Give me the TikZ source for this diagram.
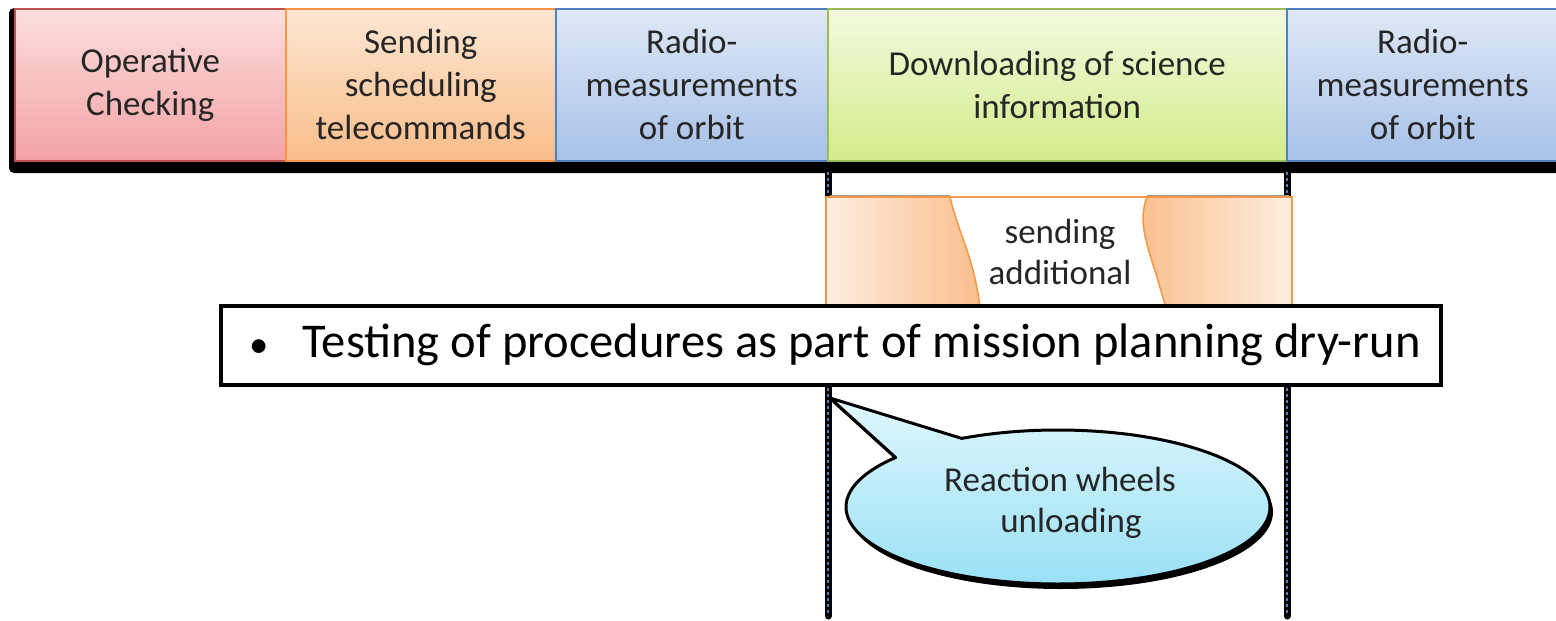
\documentclass[tikz,border=0pt]{standalone}
\usepackage{fontspec}
\usetikzlibrary{calc}
\setmainfont{Carlito}
\definecolor{pinkT}{HTML}{FCDEDE}\definecolor{pinkB}{HTML}{F3A2A5}\definecolor{pinkD}{HTML}{C0504D}
\definecolor{oraT}{HTML}{FDE7D3}\definecolor{oraB}{HTML}{F9BD8A}\definecolor{oraD}{HTML}{F79646}
\definecolor{bluT}{HTML}{DFE8F6}\definecolor{bluB}{HTML}{A7C1E8}\definecolor{bluD}{HTML}{4F81BD}
\definecolor{grnT}{HTML}{F3FADF}\definecolor{grnB}{HTML}{D2EC8A}\definecolor{grnD}{HTML}{9BBB59}
\definecolor{cyT}{HTML}{E0F7FD}\definecolor{cyB}{HTML}{96DFF5}
\begin{document}
\begin{tikzpicture}[x=1pt,y=-1pt,
  phase/.style={draw, line width=1.5pt, anchor=north west, minimum height=152pt, inner sep=0pt,
     align=center, font=\fontsize{35}{43}\selectfont, text=black!85},
  lbl/.style={align=center, font=\fontsize{35}{41}\selectfont, text=black!85},
  sep/.style={line width=7pt, black},
  sepdash/.style={line width=2pt, bluD, dash pattern=on 3pt off 3pt}]
\useasboundingbox (0,0) rectangle (1556,621);
\fill[white] (0,0) rectangle (1556,621);
% shadow of the bar
\fill[black, rounded corners=5pt] (9,8) rectangle (1570,173);
% phases
\node[phase, minimum width=271pt, top color=pinkT, bottom color=pinkB, draw=pinkD] (op) at (14,8) {Operative\\Checking};
\node[phase, minimum width=270pt, top color=oraT, bottom color=oraB, draw=oraD] (se) at (285,8) {Sending\\scheduling\\telecommands};
\node[phase, minimum width=272pt, top color=bluT, bottom color=bluB, draw=bluD] (r1) at (555,8) {Radio-\\measurements\\of orbit};
\node[phase, minimum width=459pt, top color=grnT, bottom color=grnB, draw=grnD] (dl) at (827,8) {Downloading of science\\information};
\node[phase, minimum width=272pt, top color=bluT, bottom color=bluB, draw=bluD] (r2) at (1286,8) {Radio-\\measurements\\of orbit};
% timeline markers
\coordinate (l1) at (828,172); \coordinate (l1e) at (828,616);
\coordinate (l2) at (1287,172); \coordinate (l2e) at (1287,616);
\draw[sep, line cap=round] (l1) -- (l1e);
\draw[sep, line cap=round] (l2) -- (l2e);
\draw[sepdash] (l1) -- (l1e);
\draw[sepdash] (l2) -- (l2e);
% sending additional box
\fill[white] (826,197) rectangle (1292,330);
\shade[left color=oraT!70, right color=oraB] (826,197) -- (950,197) .. controls (960,240) and (978,262) .. (982,330) -- (826,330) -- cycle;
\shade[left color=oraB, right color=oraT!70] (1147,197) .. controls (1133,232) and (1160,268) .. (1170,330) -- (1292,330) -- (1292,197) -- cycle;
\draw[oraD, line width=1.5pt] (950,197) .. controls (960,240) and (978,262) .. (982,330);
\draw[oraD, line width=1.5pt] (1147,197) .. controls (1133,232) and (1160,268) .. (1170,330);
\draw[oraD, line width=2pt] (826,330) -- (826,197) -- (1292,197) -- (1292,330);
\draw[black!40, line width=1pt] (830,195) -- (950,195) (1147,195) -- (1289,195);
\node[lbl] (sa) at (1060,252) {sending\\additional};
% text box
\node[draw, line width=3.5pt, fill=white, minimum width=1220pt, minimum height=79pt, anchor=north west, inner sep=0pt] (tb) at (219,304) {};
\node[anchor=west, font=\fontsize{48.5}{54}\selectfont, inner sep=0pt] (tt) at (249,345) {\scalebox{0.8}{\textbullet}\hspace{34pt}Testing of procedures as part of mission planning dry-run};
% callout
\begin{scope}[shift={(3,5)}]
\fill[black] (1058,507) ++(-117:212 and 77) -- (830,398) -- ($(1058,507)+(-140:212 and 77)$) arc[start angle=-140, end angle=-477, x radius=212, y radius=77] -- cycle;
\end{scope}
\shade[top color=cyT, bottom color=cyB, draw=black, line width=3pt, line join=round]
  (1058,507) ++(-117:212 and 77) coordinate (ta) -- (830,398) coordinate (tip) -- ($(1058,507)+(-140:212 and 77)$) coordinate (tb2) arc[start angle=-140, end angle=-477, x radius=212, y radius=77] -- cycle;
\node[lbl] (rw) at (1060,503) {Reaction wheels\\\hspace*{22pt}unloading};
\end{tikzpicture}
\end{document}
